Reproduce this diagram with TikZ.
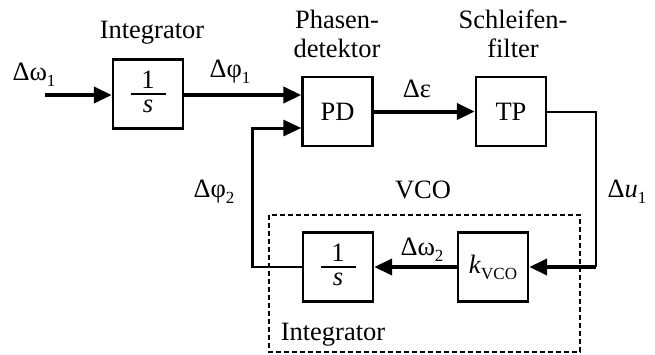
\documentclass[tikz,border=0pt]{standalone}
\usepackage{fontspec}
\setmainfont{Liberation Serif}
\usetikzlibrary{arrows.meta}
\newcommand{\sbs}[1]{\raisebox{-0.5ex}{\fontsize{17}{17}\selectfont #1}}
\begin{document}
\begin{tikzpicture}[x=1pt,y=-1pt,
  every node/.style={font=\fontsize{26.5}{30}\selectfont},
  blk/.style={draw,line width=2.4pt,minimum width=70pt,minimum height=69pt,inner sep=0pt},
  lbl/.style={inner sep=0pt},
  thk/.style={line width=4pt,-{Triangle[length=18pt,width=16pt]}},
  thn/.style={line width=2pt},
  mid/.style={line width=3pt}]
\useasboundingbox (0,0) rectangle (655,354);
% blocks
\node[blk] (int1) at (148,94) {};
\node[blk] (pd) at (337.5,111.5) {PD};
\node[blk] (tp) at (511,111.5) {TP};
\node[blk] (int2) at (338,267) {};
\node[blk] (kvco) at (493,267) {\textit{k}\sbs{VCO}};
% fractions
\foreach \n in {int1,int2}{
  \node[lbl] at ([yshift=14.5pt]\n.center) {1};
  \draw[line width=1.6pt] ([xshift=-17.5pt]\n.center) -- ([xshift=17.5pt]\n.center);
  \node[lbl] at ([yshift=-12.5pt]\n.center) {\textit{s}};
}
% dashed VCO box
\draw[line width=2pt,dash pattern=on 5pt off 3pt] (269,215) rectangle (580,352);
% coordinates
\coordinate (in) at (45,95);
\coordinate (c1) at (596,111.5);
\coordinate (c2) at (596,267);
\coordinate (c3) at (252,267);
\coordinate (c4) at (252,128);
% connectors
\draw[thk] (in) -- (in -| int1.west);
\draw[thk] (int1.east |- in) -- (pd.west |- in);
\draw[thk] (pd.east) -- (tp.west);
\draw[thn] (tp.east) -- (c1) -- (c2);
\draw[thk] (c2) -- (kvco.east);
\draw[thk] (kvco.west) -- (int2.east);
\draw[thn] (int2.west) -- (c3);
\draw[mid] ([yshift=-1pt]c3) -- (c4);
\draw[mid,-{Triangle[length=18pt,width=16pt]}] ([xshift=-1.5pt]c4) -- (c4 -| pd.west);
% labels
\node[lbl] (l1) at (34,75) {Δω\sbs{1}};
\node[lbl] (l2) at (230,72) {Δφ\sbs{1}};
\node[lbl] (l3) at (152,33) {Integrator};
\node[lbl,align=center] (l4) at (337,34) {Phasen-\\[-1pt]detektor};
\node[lbl,align=center] (l5) at (513,34) {Schleifen-\\[-1pt]filter};
\node[lbl] (l6) at (417,89) {Δε};
\node[lbl] (l7) at (214,192) {Δφ\sbs{2}};
\node[lbl] (l8) at (423,190) {VCO};
\node[lbl] (l9) at (627,192) {Δ\textit{u}\sbs{1}};
\node[lbl] (l10) at (422,250) {Δω\sbs{2}};
\node[lbl] (l11) at (333,335) {Integrator};
\end{tikzpicture}
\end{document}
